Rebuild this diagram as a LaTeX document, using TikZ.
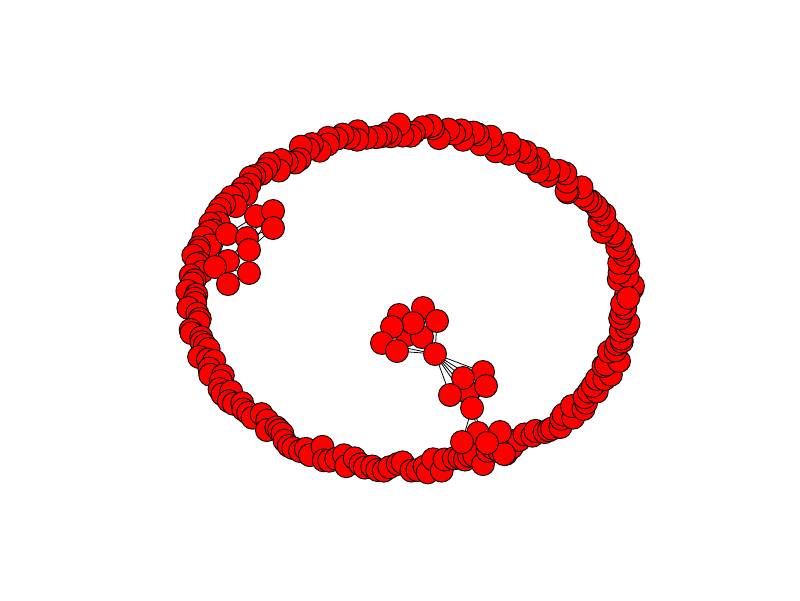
\documentclass[tikz,border=0pt]{standalone}
\usetikzlibrary{backgrounds}
\begin{document}
\begin{tikzpicture}[x=1pt,y=-1pt,
 vtx/.style={circle,fill=red,draw=black,line width=0.9pt,minimum size=23pt,inner sep=0pt},
 lnk/.style={draw=black,line width=0.8pt}]
\useasboundingbox (0,0) rectangle (800,600);
\pgfmathsetseed{12}
\foreach \i in {1,...,220}{
 \pgfmathsetmacro\t{\i*1.636364+(rnd-0.5)*1.2}
 \pgfmathsetmacro\dr{(rnd-0.5)*14}
 \node[vtx] (r\i) at ({410+(217+(\dr))*cos(\t)},{299-(168+(\dr))*sin(\t)}) {};
}
% left cluster
\node[vtx] (L1) at (256,216) {};
\node[vtx] (L2) at (273,211) {};
\node[vtx] (L3) at (273,228) {};
\node[vtx] (L4) at (227,234) {};
\node[vtx] (L5) at (247,238) {};
\node[vtx] (L6) at (249,250) {};
\node[vtx] (L7) at (228,261) {};
\node[vtx] (L8) at (215,267) {};
\node[vtx] (L9) at (249,273) {};
\node[vtx] (L10) at (228,284) {};
% central cluster A
\node[vtx] (a7) at (407,335) {};
\node[vtx] (a6) at (422,337) {};
\node[vtx] (a1) at (423,308) {};
\node[vtx] (a2) at (399,315) {};
\node[vtx] (a3) at (413,323) {};
\node[vtx] (a4) at (437,321) {};
\node[vtx] (a5) at (392,327) {};
\node[vtx] (a8) at (382,343) {};
\node[vtx] (a9) at (397,351) {};
\node[vtx] (a10) at (435,354) {};
% cluster B
\node[vtx] (b1) at (483,372) {};
\node[vtx] (b4) at (468,392) {};
\node[vtx] (b3) at (486,386) {};
\node[vtx] (b2) at (463,378) {};
\node[vtx] (b5) at (450,395) {};
\node[vtx] (b6) at (472,408) {};
% cluster C
\node[vtx] (c5) at (504,454) {};
\node[vtx] (c2) at (478,433) {};
\node[vtx] (c3) at (500,432) {};
\node[vtx] (c1) at (462,442) {};
\node[vtx] (c4) at (487,443) {};
\begin{pgfonlayer}{background}
\foreach \i in {1,...,219}{\pgfmathtruncatemacro\j{\i+1}\draw[lnk] (r\i.center)--(r\j.center);}
\draw[lnk] (r220.center)--(r1.center);
\foreach \s/\e in {L1/L5,L2/L5,L3/L5,L3/L6,L2/L6,L1/L4,L5/L7,L6/L8,L9/L8,L9/L10,L10/L7,L8/L4}{\draw[lnk] (\s.center)--(\e.center);}
\foreach \s in {a1,a2,a3,a4,a5,a6,a7,a8,a9}{\draw[lnk] (\s.center)--(a10.center);}
\foreach \s in {a1,a2,a3,a5}{\draw[lnk] (\s.center)--(a6.center);}
\foreach \e in {b1,b2,b3,b4,b5,b6}{\draw[lnk] (a10.center)--(\e.center);}
\foreach \s/\e in {b2/b6,b4/b6,b5/b6,b3/b6,b6/c1,b6/c2,b6/c4,c1/c4,c2/c3,c3/c5}{\draw[lnk] (\s.center)--(\e.center);}
\end{pgfonlayer}
\end{tikzpicture}
\end{document}
